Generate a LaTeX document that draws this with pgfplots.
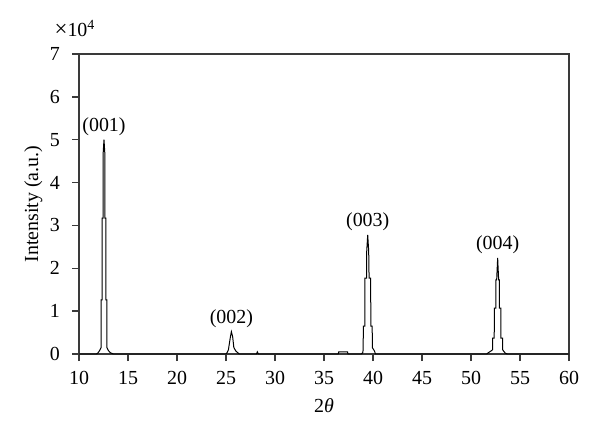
\documentclass[border=0pt]{standalone}
\usepackage{fontspec}
\setmainfont{Liberation Serif}
\usepackage{pgfplots}
\pgfplotsset{compat=1.18}
\definecolor{axgray}{HTML}{3A3A3A}
\begin{document}
\begin{tikzpicture}
\begin{axis}[
  scale only axis,
  width=245bp, height=150bp,
  xmin=10, xmax=60, ymin=0, ymax=70000,
  xtick={10,15,...,60},
  ytick={0,10000,20000,30000,40000,50000,60000,70000},
  yticklabels={0,1,2,3,4,5,6,7},
  scaled y ticks=false,
  tick align=outside,
  xtick pos=bottom, ytick pos=left,
  major tick length=3.5bp,
  axis line style={axgray, line width=0.75bp},
  every tick/.style={axgray, line width=0.75bp},
  tick label style={font=\fontsize{10}{12}\selectfont},
  yticklabel style={xshift=-2.5bp},
  xticklabel style={yshift=-1.5bp},
  /pgf/number format/assume math mode=true,
  xlabel={2\textit{θ}},
  ylabel={Intensity (a.u.)},
  label style={font=\fontsize{10}{12}\selectfont},
  ylabel style={yshift=-3bp},
  clip=false,
]
\addplot[black, line width=0.5bp] coordinates {
(10,0) (11.8,0) (11.95,300) (12.1,800) (12.25,1500) (12.26,12600) (12.35,12600) (12.36,31700) (12.45,31700) (12.47,47000) (12.55,50000) (12.63,47000) (12.65,31700) (12.74,31700) (12.75,12600) (12.84,12600) (12.85,1500) (13.0,800) (13.2,300) (13.5,0)
(25.0,0) (25.1,300) (25.25,1000) (25.3,1800) (25.45,4000) (25.55,5200) (25.68,4000) (25.8,1500) (26.0,700) (26.25,200) (26.35,0)
(28.1,0) (28.2,500) (28.3,0)
(36.45,0) (36.5,500) (37.4,500) (37.45,0)
(38.8,0) (38.95,300) (39.0,1000) (39.01,6500) (39.17,6500) (39.18,17700) (39.34,17700) (39.36,24000) (39.46,27800) (39.56,24000) (39.6,17700) (39.76,17700) (39.78,6500) (39.92,6500) (39.93,1500) (40.15,700) (40.25,0)
(51.6,0) (51.77,300) (52.1,800) (52.2,1000) (52.21,3700) (52.37,3700) (52.38,10700) (52.54,10700) (52.55,17300) (52.62,17300) (52.72,22400) (52.82,17300) (52.89,17300) (52.9,10700) (53.05,10700) (53.06,3700) (53.22,3700) (53.23,1000) (53.35,600) (53.5,200) (53.7,0)
(60,0)
};
\node[anchor=south, inner sep=2bp] at (axis cs:12.55,50000) {(001)};
\node[anchor=south, inner sep=2bp] at (axis cs:25.55,5200) {(002)};
\node[anchor=south, inner sep=2bp] at (axis cs:39.46,27800) {(003)};
\node[anchor=south, inner sep=2bp] at (axis cs:52.72,22400) {(004)};
\node[anchor=base, inner sep=0pt, font=\fontsize{10}{12}\selectfont] at ([yshift=8.5bp,xshift=-2bp]rel axis cs:0,1) {\fontsize{11.5}{12}\selectfont×\fontsize{10}{12}\selectfont10\textsuperscript{4}};
\coordinate (ll) at (rel axis cs:0,0);
\coordinate (ur) at (rel axis cs:1,1);
\end{axis}
\pgfresetboundingbox
\path[use as bounding box] ([shift={(-39.5bp,-41.5bp)}]ll) rectangle ([shift={(15.5bp,27bp)}]ur);
\end{tikzpicture}
\end{document}
